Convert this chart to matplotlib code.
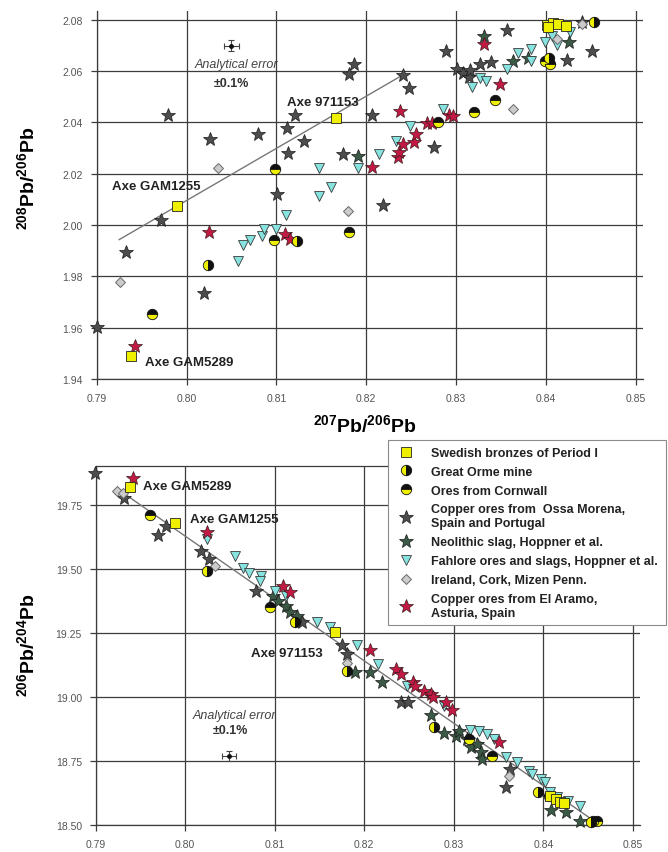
import matplotlib
matplotlib.use('Agg')
import matplotlib.pyplot as plt
from matplotlib.ticker import FormatStrFormatter

plt.rcParams['font.family'] = ['Liberation Sans', 'DejaVu Sans']
plt.rcParams['mathtext.fontset'] = 'custom'
plt.rcParams['mathtext.rm'] = 'Liberation Sans'
plt.rcParams['mathtext.bf'] = 'Liberation Sans:bold'
plt.rcParams['mathtext.it'] = 'Liberation Sans:italic'

# ---------------- data: top panel (207Pb/206Pb vs 208Pb/206Pb) ----------------
sw_x1 = [0.7938, 0.7989, 0.8166, 0.8401, 0.8408, 0.8414, 0.8423, 0.8403]
sw_y1 = [1.9488, 2.0075, 2.0417, 2.0779, 2.0787, 2.0783, 2.0777, 2.0770]

go_x1 = [0.8024, 0.8123, 0.8454, 0.8404]
go_y1 = [1.9845, 1.9936, 2.0792, 2.0650]

co_x1 = [0.7962, 0.8097, 0.8099, 0.8181, 0.8280, 0.8320, 0.8344, 0.8399, 0.8405]
co_y1 = [1.9653, 1.9943, 2.0218, 1.9971, 2.0400, 2.0439, 2.0488, 2.0640, 2.0627]

os_x1 = [0.7900, 0.7933, 0.7972, 0.7979, 0.8019, 0.8026, 0.8080, 0.8101, 0.8112,
         0.8113, 0.8121, 0.8131, 0.8174, 0.8181, 0.8186, 0.8207, 0.8219, 0.8241,
         0.8248, 0.8275, 0.8289, 0.8301, 0.8308, 0.8314, 0.8316, 0.8327, 0.8339,
         0.8357, 0.8424, 0.8451, 0.8440]
os_y1 = [1.9602, 1.9896, 2.0020, 2.0429, 1.9735, 2.0335, 2.0355, 2.0121, 2.0377,
         2.0279, 2.0429, 2.0328, 2.0277, 2.0588, 2.0627, 2.0429, 2.0078, 2.0585,
         2.0533, 2.0303, 2.0679, 2.0608, 2.0592, 2.0575, 2.0605, 2.0627, 2.0636,
         2.0761, 2.0644, 2.0679, 2.0790]

ne_x1 = [0.8191, 0.8331, 0.8364, 0.8426, 0.8380]
ne_y1 = [2.0270, 2.0735, 2.0640, 2.0714, 2.0650]

fa_x1 = [0.8057, 0.8063, 0.8071, 0.8084, 0.8086, 0.8100, 0.8111, 0.8148, 0.8148,
         0.8161, 0.8191, 0.8214, 0.8233, 0.8249, 0.8286, 0.8318, 0.8327, 0.8334,
         0.8357, 0.8369, 0.8384, 0.8384, 0.8399, 0.8407, 0.8427, 0.8412]
fa_y1 = [1.9861, 1.9922, 1.9943, 1.9956, 1.9984, 1.9984, 2.0039, 2.0112, 2.0222,
         2.0147, 2.0222, 2.0277, 2.0328, 2.0387, 2.0452, 2.0537, 2.0572, 2.0562,
         2.0608, 2.0670, 2.0640, 2.0686, 2.0712, 2.0735, 2.0753, 2.0700]

ir_x1 = [0.7926, 0.8035, 0.8180, 0.8363, 0.8412, 0.8440]
ir_y1 = [1.9777, 2.0221, 2.0053, 2.0452, 2.0725, 2.0782]

ea_x1 = [0.7943, 0.8025, 0.8110, 0.8115, 0.8206, 0.8236, 0.8237, 0.8241, 0.8253,
         0.8256, 0.8238, 0.8268, 0.8273, 0.8292, 0.8297, 0.8331, 0.8349]
ea_y1 = [1.9527, 1.9971, 1.9965, 1.9945, 2.0225, 2.0264, 2.0283, 2.0316, 2.0325,
         2.0355, 2.0444, 2.0398, 2.0398, 2.0429, 2.0426, 2.0705, 2.0549]

line_x1 = [0.7925, 0.8241]
line_y1 = [1.9943, 2.0585]

# ---------------- data: bottom panel (207Pb/206Pb vs 206Pb/204Pb) ----------------
sw_x2 = [0.7938, 0.7989, 0.8167, 0.8408, 0.8414, 0.8419, 0.8423]
sw_y2 = [19.820, 19.679, 19.254, 18.615, 18.600, 18.588, 18.585]

go_x2 = [0.8024, 0.8123, 0.8181, 0.8278, 0.8394, 0.8453]
go_y2 = [19.492, 19.293, 19.102, 18.881, 18.630, 18.510]

co_x2 = [0.7961, 0.8095, 0.8317, 0.8343, 0.8406, 0.8460, 0.8456]
co_y2 = [19.710, 19.350, 18.836, 18.770, 18.614, 18.517, 18.515]

os_x2 = [0.7899, 0.7932, 0.7970, 0.7979, 0.8018, 0.8026, 0.8079, 0.8130, 0.8175,
         0.8181, 0.8241, 0.8249, 0.8358, 0.8363]
os_y2 = [19.873, 19.775, 19.632, 19.666, 19.570, 19.538, 19.414, 19.291, 19.202,
         19.167, 18.979, 18.979, 18.647, 18.718]

ne_x2 = [0.8098, 0.8104, 0.8113, 0.8117, 0.8125, 0.8190, 0.8206, 0.8220, 0.8275,
         0.8289, 0.8302, 0.8306, 0.8315, 0.8319, 0.8326, 0.8330, 0.8332, 0.8409,
         0.8425, 0.8441]
ne_y2 = [19.395, 19.375, 19.356, 19.330, 19.317, 19.096, 19.098, 19.059, 18.929,
         18.859, 18.848, 18.868, 18.836, 18.803, 18.816, 18.784, 18.757, 18.559,
         18.552, 18.517]

fa_x2 = [0.8024, 0.8056, 0.8064, 0.8071, 0.8085, 0.8084, 0.8100, 0.8113, 0.8147,
         0.8162, 0.8192, 0.8215, 0.8248, 0.8289, 0.8318, 0.8328, 0.8337, 0.8345,
         0.8358, 0.8371, 0.8384, 0.8387, 0.8397, 0.8402, 0.8408, 0.8415, 0.8428,
         0.8441]
fa_y2 = [19.616, 19.549, 19.502, 19.483, 19.473, 19.453, 19.414, 19.395, 19.291,
         19.271, 19.202, 19.128, 19.043, 18.965, 18.872, 18.868, 18.855, 18.836,
         18.764, 18.744, 18.712, 18.699, 18.679, 18.666, 18.627, 18.608, 18.594,
         18.575]

ir_x2 = [0.7924, 0.7930, 0.8033, 0.8181, 0.8362]
ir_y2 = [19.805, 19.795, 19.512, 19.132, 18.692]

ea_x2 = [0.7942, 0.8024, 0.8109, 0.8117, 0.8206, 0.8236, 0.8241, 0.8254, 0.8257,
         0.8267, 0.8275, 0.8277, 0.8291, 0.8298, 0.8350]
ea_y2 = [19.853, 19.645, 19.431, 19.410, 19.184, 19.109, 19.089, 19.057, 19.043,
         19.024, 19.011, 18.998, 18.979, 18.950, 18.823]

line_x2 = [0.7925, 0.8455]
line_y2 = [19.810, 18.520]

# analytical error markers
err_x = [0.8050, 0.8049]
err_y = [2.0699, 18.770]
err_xe = [0.0008, 0.0008]
err_ye = [0.0021, 0.019]

x_ticks = [0.79, 0.80, 0.81, 0.82, 0.83, 0.84, 0.85]
y_ticks1 = [1.94, 1.96, 1.98, 2.00, 2.02, 2.04, 2.06, 2.08]
y_ticks2 = [18.50, 18.75, 19.00, 19.25, 19.50, 19.75]

labels = ['Swedish bronzes of Period I',
          'Great Orme mine',
          'Ores from Cornwall',
          'Copper ores from  Ossa Morena,\nSpain and Portugal',
          'Neolithic slag, Hoppner et al.',
          'Fahlore ores and slags, Hoppner et al.',
          'Ireland, Cork, Mizen Penn.',
          'Copper ores from El Aramo,\nAsturia, Spain']

YEL = '#eef000'
styles = [
    dict(marker='s', ms=7.5, mfc=YEL, mec='#222222', mew=0.6),
    dict(marker='o', ms=7.5, fillstyle='left', mfc=YEL, mfcalt='#111111', mec='#111111', mew=0.6),
    dict(marker='o', ms=7.5, fillstyle='top', mfc='#111111', mfcalt=YEL, mec='#111111', mew=0.6),
    dict(marker='*', ms=10.5, mfc='#4d4d4d', mec='#1a1a1a', mew=0.5),
    dict(marker='*', ms=10.5, mfc='#3b5a45', mec='#1a1a1a', mew=0.5),
    dict(marker='v', ms=7.5, mfc='#86e3e0', mec='#3a3a3a', mew=0.6),
    dict(marker='D', ms=5.2, mfc='#cbcbcb', mec='#6a6a6a', mew=0.7),
    dict(marker='*', ms=10.5, mfc='#c21a45', mec='#3a1a1a', mew=0.5),
]

top_sets = [(sw_x1, sw_y1), (go_x1, go_y1), (co_x1, co_y1), (os_x1, os_y1),
            (ne_x1, ne_y1), (fa_x1, fa_y1), (ir_x1, ir_y1), (ea_x1, ea_y1)]
bot_sets = [(sw_x2, sw_y2), (go_x2, go_y2), (co_x2, co_y2), (os_x2, os_y2),
            (ne_x2, ne_y2), (fa_x2, fa_y2), (ir_x2, ir_y2), (ea_x2, ea_y2)]
draw_order = [3, 4, 5, 6, 7, 2, 1, 0]

fig = plt.figure(figsize=(6.68, 8.53), dpi=100)
ax1 = fig.add_axes([0.1448, 0.5545, 0.8174, 0.4318])
ax2 = fig.add_axes([0.1433, 0.03165, 0.8147, 0.4205])

GRID = '#3c3c3c'
for ax, yt in ((ax1, y_ticks1), (ax2, y_ticks2)):
    ax.set_xticks(x_ticks)
    ax.set_yticks(yt)
    ax.grid(True, color=GRID, lw=0.9)
    ax.set_axisbelow(True)
    for s in ('top', 'right'):
        ax.spines[s].set_visible(False)
    for s in ('left', 'bottom'):
        ax.spines[s].set_color(GRID)
        ax.spines[s].set_linewidth(0.9)
    ax.tick_params(direction='out', length=4, width=0.9, color=GRID,
                   labelsize=7.5, labelcolor='#555555', pad=6)
    ax.xaxis.set_major_formatter(FormatStrFormatter('%.2f'))
    ax.yaxis.set_major_formatter(FormatStrFormatter('%.2f'))

ax1.set_xlim(0.79, 0.8508)
ax1.set_ylim(1.94, 2.0835)
ax2.set_xlim(0.79, 0.8508)
ax2.set_ylim(18.50, 19.90)
ax2.spines['top'].set_visible(True)
ax2.spines['top'].set_color(GRID)
ax2.spines['top'].set_linewidth(0.9)

ax1.plot(line_x1, line_y1, color='#777777', lw=1.0, zorder=2)
ax2.plot(line_x2, line_y2, color='#777777', lw=1.0, zorder=2)

handles = [None] * len(labels)
for i in draw_order:
    ax1.plot(*top_sets[i], linestyle='none', zorder=3, clip_on=False, **styles[i])
    h, = ax2.plot(*bot_sets[i], linestyle='none', zorder=3, clip_on=False, **styles[i])
    handles[i] = h

for ax, k in ((ax1, 0), (ax2, 1)):
    ax.errorbar([err_x[k]], [err_y[k]], xerr=[err_xe[k]], yerr=[err_ye[k]],
                fmt='o', ms=2.5, color='#111111', ecolor='#444444', elinewidth=0.8,
                capsize=2.5, capthick=0.8, zorder=4)

AFS = 9.5
# annotations top
ax1.text(0.7917, 2.0153, 'Axe GAM1255', fontsize=AFS, fontweight='bold', ha='left', va='center', color='#222222')
ax1.text(0.8112, 2.0480, 'Axe 971153', fontsize=AFS, fontweight='bold', ha='left', va='center', color='#222222')
ax1.text(0.7954, 1.9465, 'Axe GAM5289', fontsize=AFS, fontweight='bold', ha='left', va='center', color='#222222')
ax1.text(0.8056, 2.0627, 'Analytical error', fontsize=9, style='italic', ha='center', va='center', color='#444444')
ax1.text(0.8050, 2.0552, '±0.1%', fontsize=9, fontweight='bold', ha='center', va='center', color='#333333')

# annotations bottom
ax2.text(0.7953, 19.822, 'Axe GAM5289', fontsize=AFS, fontweight='bold', ha='left', va='center', color='#222222')
ax2.text(0.8005, 19.694, 'Axe GAM1255', fontsize=AFS, fontweight='bold', ha='left', va='center', color='#222222')
ax2.text(0.8074, 19.171, 'Axe 971153', fontsize=AFS, fontweight='bold', ha='left', va='center', color='#222222')
ax2.text(0.8055, 18.929, 'Analytical error', fontsize=9, style='italic', ha='center', va='center', color='#444444')
ax2.text(0.8051, 18.872, '±0.1%', fontsize=9, fontweight='bold', ha='center', va='center', color='#333333')

# axis labels
ax1.set_xlabel(r'$\mathbf{^{207}Pb/^{206}Pb}$', fontsize=14)
ax1.xaxis.set_label_coords(0.491, -0.122)
ax1.xaxis.label.set_va('center')
ax1.set_ylabel(r'$\mathbf{^{208}Pb/^{206}Pb}$', fontsize=14)
ax1.yaxis.set_label_coords(-0.128, 0.548)
ax1.yaxis.label.set_va('center')
ax2.set_ylabel(r'$\mathbf{^{206}Pb/^{204}Pb}$', fontsize=14)
ax2.yaxis.set_label_coords(-0.126, 0.505)
ax2.yaxis.label.set_va('center')

leg = fig.legend(handles, labels, loc='upper left',
                 bbox_to_anchor=(388 / 668, 1 - 623 / 853, 278 / 668, 182 / 853),
                 mode='expand', prop={'weight': 'bold', 'size': 9},
                 frameon=True, fancybox=False, framealpha=1, edgecolor='#8a8a8a',
                 borderpad=0.55, labelspacing=0.55, handlelength=1.8,
                 handletextpad=1.1, numpoints=1, borderaxespad=0)
leg.get_frame().set_linewidth(0.8)
for t in leg.get_texts():
    t.set_color('#222222')

fig.savefig('out.png', dpi=100)
